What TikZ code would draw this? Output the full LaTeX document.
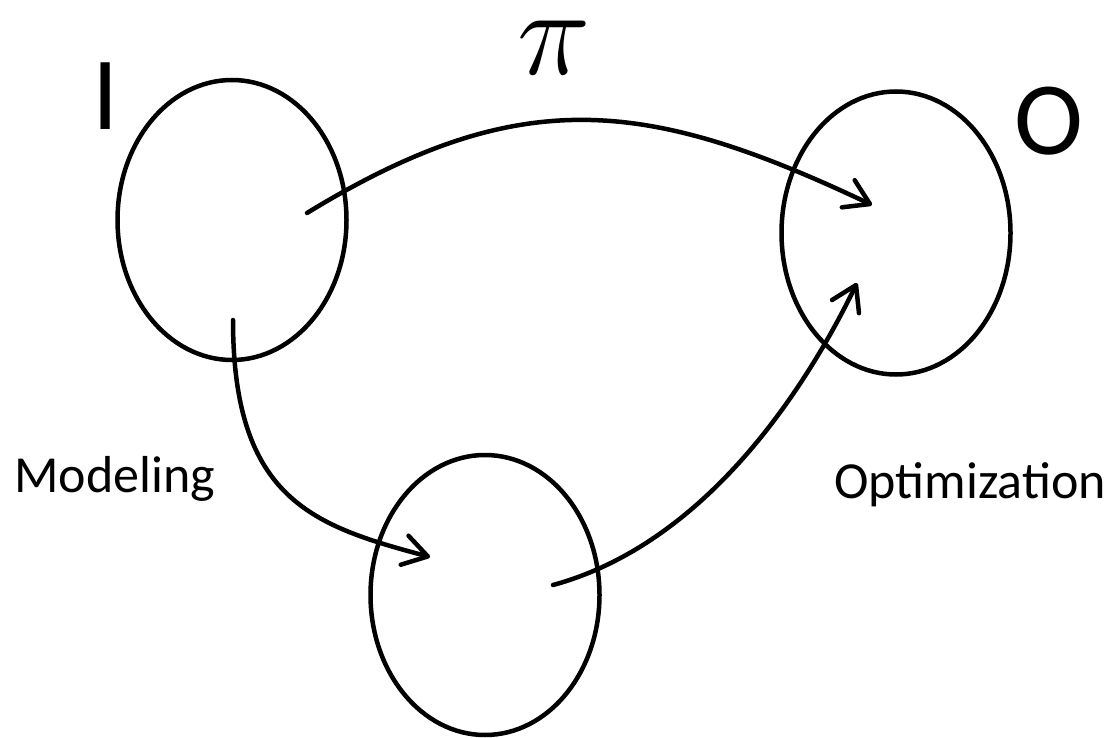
\documentclass[tikz,border=0pt]{standalone}
\RequirePackage{fix-cm}
\usepackage{fontspec}
\setmainfont{Carlito}
\usepackage{tikz}
\usetikzlibrary{shapes.geometric, arrows.meta, positioning}

\begin{document}
\begin{tikzpicture}[
        x=1pt, y=-1pt,
        space/.style={
            ellipse,
            draw=black,
            line width=4.5pt,
            inner sep=0pt,
            minimum width=229pt,
            minimum height=280pt
        },
        map/.style={
            line width=4.5pt,
            line cap=round,
            -{Straight Barb[length=24pt, width=30pt, line cap=round, line join=round]}
        },
        bigtag/.style={
            inner sep=0pt,
            font=\fontsize{104}{110}\selectfont
        },
        tag/.style={
            inner sep=0pt,
            font=\fontsize{52}{60}\selectfont
        }
    ]
    \useasboundingbox (0,0) rectangle (1116,738);

    % Sets
    \node[space] (in) at (232, 220) {};
    \node[space, minimum height=283pt] (out) at (896, 233) {};
    \node[space] (model) at (485, 595) {};

    % Set labels
    \node[bigtag, anchor=base] (inlabel) at (106, 130) {I};
    \node[bigtag, anchor=base] (outlabel) at (1049, 155) {O};

    % Free ends of the maps
    \coordinate (inA) at (307, 213);
    \coordinate (inB) at (233, 320);
    \coordinate (modelA) at (430, 557);
    \coordinate (modelB) at (553, 585);
    \coordinate (outA) at (872, 205);
    \coordinate (outB) at (857, 283);

    % Policy
    \draw[map] (inA) .. controls (520, 83) and (646, 98) .. (outA);
    \node[font=\fontsize{124}{124}\selectfont, inner sep=0pt, anchor=base] (pi) at (554, 75) {$\pi$};

    % Modeling and optimization
    \draw[map] (inB) .. controls (233, 500) and (314, 526) .. (modelA);
    \draw[map] (modelB) .. controls (700, 545) and (800, 400) .. (outB);
    \node[tag, anchor=base west] (modeling) at (14, 492) {Modeling};
    \node[tag, anchor=base west] (optim) at (834, 498) {Optimization};

\end{tikzpicture}
\end{document}
